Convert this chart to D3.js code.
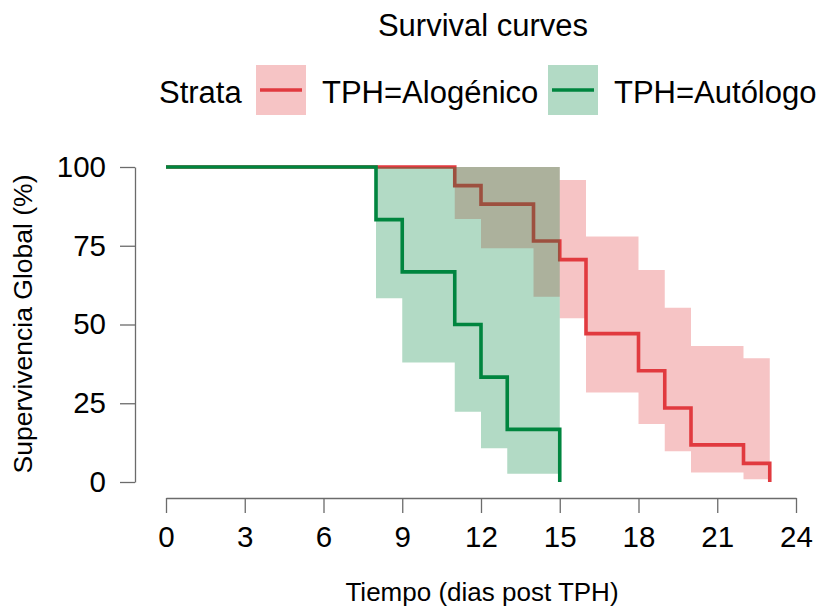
<!DOCTYPE html>
<html>
<head>
<meta charset="utf-8">
<script src="https://d3js.org/d3.v7.min.js"></script>
<style>
 body { margin: 0; background: #ffffff; }
 text { font-family: "Liberation Sans", Arial, sans-serif; }
</style>
</head>
<body>
<svg height="610" width="820"></svg>

<script>
 // Kaplan-Meier estimates (percent)
 var tiempoAlo = [0, 11, 12, 14, 15, 16, 18, 19, 20, 22, 23];
 var survAlo   = [100, 94.1, 88.2, 76.5, 70.6, 47.1, 35.3, 23.5, 11.8, 5.9, 0];
 var upperAlo  = [100, 100, 100, 100, 95.9, 77.9, 67.3, 55.3, 43.2, 39.3];
 var lowerAlo  = [100, 83.5, 74.2, 58.8, 52.0, 28.4, 18.4, 9.8, 3.0, 0.9];

 var tiempoAuto = [0, 8, 9, 11, 12, 13, 15];
 var survAuto   = [100, 83.3, 66.7, 50, 33.3, 16.7, 0];
 var upperAuto  = [100, 100, 100, 100, 100, 100];
 var lowerAuto  = [100, 58.3, 37.9, 22.3, 10.7, 2.6];

 var xTicks = [0, 3, 6, 9, 12, 15, 18, 21, 24];
 var yTicks = [0, 25, 50, 75, 100];
 var strata = ["TPH=Alogénico", "TPH=Autólogo"];
 var colores = ["#e13a3f", "#00853f"];

 var svg = d3.select("svg");

 var x = d3.scaleLinear().domain([0, 24]).range([166, 796]);
 var y = d3.scaleLinear().domain([0, 100]).range([482, 167]);

 function stepData(t, s) {
     return t.map(function (d, i) { return [d, s[i]]; });
 }
 // ribbon: one row per interval, last interval closed at the final time
 function ribbonData(t, lo, hi) {
     var rows = lo.map(function (d, i) { return [t[i], lo[i], hi[i]]; });
     var last = rows[rows.length - 1];
     rows.push([t[lo.length], last[1], last[2]]);
     return rows;
 }

 var lineFunction = d3.line()
     .x(function (d) { return x(d[0]); })
     .y(function (d) { return y(d[1]); })
     .curve(d3.curveStepAfter);

 var areaFunction = d3.area()
     .x(function (d) { return x(d[0]); })
     .y0(function (d) { return y(d[1]); })
     .y1(function (d) { return y(d[2]); })
     .curve(d3.curveStepAfter);

 var series = [
     { t: tiempoAlo, s: survAlo, lo: lowerAlo, hi: upperAlo, col: colores[0] },
     { t: tiempoAuto, s: survAuto, lo: lowerAuto, hi: upperAuto, col: colores[1] }
 ];

 var g = svg.append("g");
 series.forEach(function (d) {
     g.append("path")
        .attr("d", areaFunction(ribbonData(d.t, d.lo, d.hi)))
        .attr("fill", d.col)
        .attr("fill-opacity", 0.3)
        .attr("stroke", "none");
     g.append("path")
        .attr("d", lineFunction(stepData(d.t, d.s)))
        .attr("fill", "none")
        .attr("stroke", d.col)
        .attr("stroke-width", 3.6);
 });

 // axes
 var xAxis = svg.append("g")
     .attr("transform", "translate(0,498)")
     .call(d3.axisBottom(x).tickValues(xTicks).tickSize(15).tickSizeOuter(0).tickPadding(13));
 var yAxis = svg.append("g")
     .attr("transform", "translate(135,0)")
     .call(d3.axisLeft(y).tickValues(yTicks).tickSize(15).tickSizeOuter(0).tickPadding(14));
 [xAxis, yAxis].forEach(function (a) {
     a.select(".domain").attr("stroke", "#6b6b6b").attr("stroke-width", 1.3);
     a.selectAll(".tick line").attr("stroke", "#6b6b6b").attr("stroke-width", 1.3);
     a.selectAll(".tick text")
        .attr("font-family", "Liberation Sans, Arial, sans-serif")
        .attr("font-size", "29.5px")
        .attr("fill", "#000000");
 });

 svg.append("text")
    .attr("x", 482).attr("y", 601)
    .attr("text-anchor", "middle")
    .attr("font-size", "26px")
    .text("Tiempo (dias post TPH)");

 svg.append("text")
    .attr("transform", "translate(32,324) rotate(-90)")
    .attr("text-anchor", "middle")
    .attr("font-size", "26.5px")
    .text("Supervivencia Global (%)");

 svg.append("text")
    .attr("x", 483).attr("y", 36)
    .attr("text-anchor", "middle")
    .attr("font-size", "31px")
    .text("Survival curves");

 // legend
 svg.append("text")
    .attr("x", 159).attr("y", 103)
    .attr("font-size", "31px")
    .text("Strata");
 var keyX = [256, 548];
 strata.forEach(function (s, i) {
     svg.append("rect")
        .attr("x", keyX[i]).attr("y", 65)
        .attr("width", 50).attr("height", 50)
        .attr("fill", colores[i]).attr("fill-opacity", 0.3);
     svg.append("path")
        .attr("d", "M " + (keyX[i] + 4) + " 90 L " + (keyX[i] + 46) + " 90")
        .attr("stroke", colores[i]).attr("stroke-width", 3.6);
     svg.append("text")
        .attr("x", keyX[i] + 66).attr("y", 103)
        .attr("font-size", "31px")
        .text(s);
 });
</script>
</body>
</html>
